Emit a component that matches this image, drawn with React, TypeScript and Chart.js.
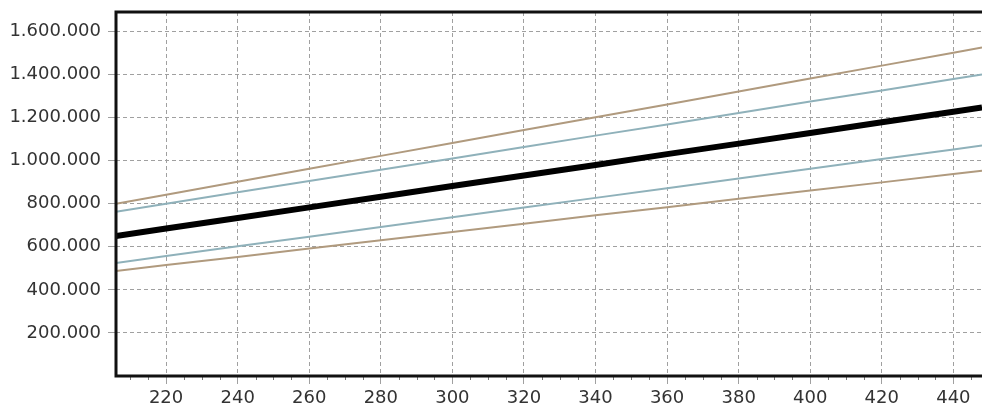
import React, { useEffect, useRef } from "react";
import { Chart, registerables } from "chart.js";

Chart.register(...registerables);

const xValues = [206, 220, 240, 260, 280, 300, 320, 340, 360, 380, 400, 420, 440, 448];
const upperOuter = [800000, 842000, 902000, 962000, 1022000, 1082000, 1142000, 1201000, 1261000, 1321000, 1381000, 1441000, 1501000, 1525000];
const upperInner = [763000, 800000, 853000, 905000, 958000, 1010000, 1063000, 1116000, 1168000, 1221000, 1274000, 1326000, 1379000, 1400000];
const central = [650000, 685000, 734000, 783000, 832000, 882000, 931000, 980000, 1030000, 1079000, 1128000, 1178000, 1227000, 1247000];
const lowerInner = [525000, 557000, 602000, 647000, 692000, 737000, 782000, 827000, 872000, 917000, 962000, 1007000, 1052000, 1070000];
const lowerOuter = [488000, 515000, 553000, 592000, 630000, 669000, 707000, 746000, 784000, 823000, 861000, 899000, 938000, 953000];

const xTickValues = [220, 240, 260, 280, 300, 320, 340, 360, 380, 400, 420, 440];
const yTickValues = [200000, 400000, 600000, 800000, 1000000, 1200000, 1400000, 1600000];

const xMin = 206;
const xMax = 448;
const yMax = 1690000;

const toPoints = (ys: number[]) => xValues.map((x, i) => ({ x, y: ys[i] }));

const fmt = (v: number) => String(Math.round(v)).replace(/\B(?=(\d{3})+(?!\d))/g, ".");

const framePlugin = {
  id: "frame",
  afterDraw(chart: any) {
    const { ctx, chartArea, scales } = chart;
    ctx.save();
    ctx.strokeStyle = "#777";
    ctx.lineWidth = 1;
    for (let v = 210; v <= xMax; v += 5) {
      if (v % 20 === 0) continue;
      const px = Math.round(scales.x.getPixelForValue(v)) + 0.5;
      ctx.beginPath();
      ctx.moveTo(px, chartArea.bottom);
      ctx.lineTo(px, chartArea.bottom + 4);
      ctx.stroke();
    }
    ctx.strokeStyle = "#111";
    ctx.lineWidth = 3;
    ctx.beginPath();
    ctx.moveTo(chartArea.right + 2, chartArea.top);
    ctx.lineTo(chartArea.left, chartArea.top);
    ctx.lineTo(chartArea.left, chartArea.bottom);
    ctx.lineTo(chartArea.right + 2, chartArea.bottom);
    ctx.stroke();
    ctx.restore();
  },
};

export default function App() {
  const ref = useRef<HTMLCanvasElement | null>(null);
  useEffect(() => {
    document.body.style.margin = "0";
    const brown = "#b09a7e";
    const blue = "#8fb1ba";
    const font = { family: "'DejaVu Sans', Verdana, sans-serif", size: 18 };
    const chart = new Chart(ref.current!, {
      type: "line",
      data: {
        datasets: [
          { data: toPoints(upperOuter), borderColor: brown, borderWidth: 2 },
          { data: toPoints(upperInner), borderColor: blue, borderWidth: 2 },
          { data: toPoints(lowerInner), borderColor: blue, borderWidth: 2 },
          { data: toPoints(lowerOuter), borderColor: brown, borderWidth: 2 },
          { data: toPoints(central), borderColor: "#000", borderWidth: 6 },
        ] as any,
      },
      options: {
        animation: false,
        responsive: false,
        layout: { padding: { top: 12, right: 0, left: 0, bottom: 0 } },
        elements: { point: { radius: 0 }, line: { tension: 0 } },
        plugins: { legend: { display: false }, tooltip: { enabled: false } },
        scales: {
          x: {
            type: "linear",
            min: xMin,
            max: xMax,
            afterBuildTicks: (s: any) => {
              s.ticks = xTickValues.map((value) => ({ value }));
            },
            afterFit: (s: any) => {
              s.height = 37;
              s.paddingLeft = 0;
              s.paddingRight = 0;
            },
            border: { display: false, dash: [4, 3] },
            grid: {
              color: "#a0a0a0",
              lineWidth: 1,
              tickLength: 8,
              tickColor: "#a0a0a0",
            },
            ticks: {
              color: "#333",
              font,
              padding: 4,
              callback: (v: any) => String(v),
            },
          },
          y: {
            type: "linear",
            min: 0,
            max: yMax,
            afterBuildTicks: (s: any) => {
              s.ticks = yTickValues.map((value) => ({ value }));
            },
            afterFit: (s: any) => {
              s.width = 116;
              s.paddingTop = 0;
              s.paddingBottom = 0;
            },
            border: { display: false, dash: [4, 3] },
            grid: {
              color: "#a0a0a0",
              lineWidth: 1,
              tickLength: 8,
              tickColor: "#a0a0a0",
            },
            ticks: {
              color: "#333",
              font,
              padding: 7,
              callback: (v: any) => fmt(Number(v)),
            },
          },
        },
      },
      plugins: [framePlugin],
    } as any);
    return () => chart.destroy();
  }, []);
  return <canvas ref={ref} width={982} height={413} style={{ display: "block" }} />;
}
